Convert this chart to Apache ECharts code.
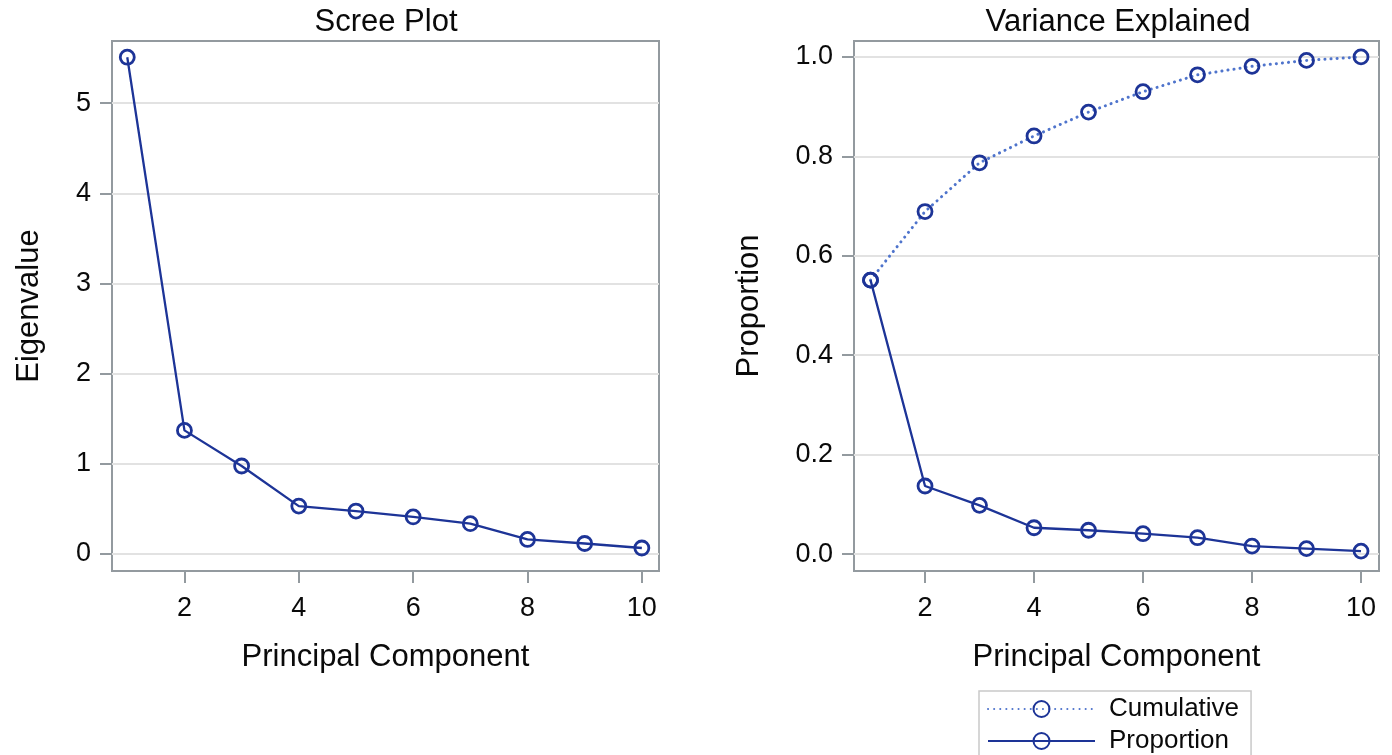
<!DOCTYPE html>
<html>
<head>
<meta charset="utf-8">
<script src="https://cdn.jsdelivr.net/npm/echarts@6/dist/echarts.min.js"></script>
<style>
  html, body { margin: 0; padding: 0; background: #fff; }
  #chart { width: 1392px; height: 755px; }
</style>
</head>
<body>
<div id="chart"></div>
<script>
// principal components 1..10
const components = [1, 2, 3, 4, 5, 6, 7, 8, 9, 10]
const eigenvalues = [5.51, 1.37, 0.975, 0.53, 0.475, 0.41, 0.335, 0.16, 0.115, 0.065]
const proportion = [0.551, 0.137, 0.098, 0.053, 0.048, 0.041, 0.033, 0.016, 0.011, 0.006]
const cumulative = [0.551, 0.689, 0.787, 0.841, 0.889, 0.930, 0.964, 0.981, 0.993, 1.0]

const xTicks = [2, 4, 6, 8, 10]
const eigenTicks = [0, 1, 2, 3, 4, 5]
const propTicks = [0, 0.2, 0.4, 0.6, 0.8, 1.0]

const font = "'Liberation Sans', Arial, sans-serif"
const textColor = '#0a0a0a'
const frameColor = '#939a9f'
const gridColor = '#e2e2e2'
const darkBlue = '#1d3497'
const lightBlue = '#4f74cc'

function pairs(xs, ys) {
  return xs.map((x, i) => [x, ys[i]])
}

function xAxisFor(gridIndex, min, max) {
  return {
    type: 'value',
    gridIndex: gridIndex,
    min: min,
    max: max,
    name: 'Principal Component',
    nameLocation: 'middle',
    nameGap: 71,
    nameTextStyle: { fontFamily: font, fontSize: 31, color: textColor },
    axisLine: { show: false, onZero: false },
    axisTick: { show: true, customValues: xTicks, length: 12, lineStyle: { color: frameColor, width: 2 } },
    axisLabel: {
      customValues: xTicks,
      margin: 24,
      fontFamily: font,
      fontSize: 27,
      color: textColor
    },
    splitLine: { show: false }
  }
}

function yAxisFor(gridIndex, min, max, ticks, name, gap, digits) {
  return {
    type: 'value',
    gridIndex: gridIndex,
    min: min,
    max: max,
    name: name,
    nameLocation: 'middle',
    nameGap: gap,
    nameTextStyle: { fontFamily: font, fontSize: 31, color: textColor },
    axisLine: { show: false, onZero: false },
    axisTick: { show: true, customValues: ticks, length: 12, lineStyle: { color: frameColor, width: 2 } },
    axisLabel: {
      customValues: ticks,
      margin: 21,
      fontFamily: font,
      fontSize: 27,
      color: textColor,
      formatter: v => v.toFixed(digits)
    },
    splitLine: { show: true, lineStyle: { color: gridColor, width: 2 } }
  }
}

const markerStyle = {
  color: 'rgba(255,255,255,0)',
  borderColor: darkBlue,
  borderWidth: 2.8
}

const chart = echarts.init(document.getElementById('chart'))

chart.setOption({
  animation: false,
  backgroundColor: '#fff',
  title: [
    {
      text: 'Scree Plot',
      left: 386,
      top: 7,
      textAlign: 'center',
      padding: 0,
      textStyle: { fontFamily: font, fontSize: 31, fontWeight: 'normal', color: textColor }
    },
    {
      text: 'Variance Explained',
      left: 1118,
      top: 7,
      textAlign: 'center',
      padding: 0,
      textStyle: { fontFamily: font, fontSize: 31, fontWeight: 'normal', color: textColor }
    }
  ],
  grid: [
    { left: 112, top: 41, width: 547, height: 530, show: true, borderColor: frameColor, borderWidth: 2 },
    { left: 854, top: 41, width: 525, height: 530, show: true, borderColor: frameColor, borderWidth: 2 }
  ],
  legend: {
    data: ['Cumulative', 'Proportion'],
    orient: 'vertical',
    left: 979,
    top: 691,
    height: 120,
    padding: [5, 12, 5, 8],
    itemGap: 6,
    itemWidth: 107,
    itemHeight: 20,
    borderColor: '#c9c9c9',
    borderWidth: 1.5,
    textStyle: { fontFamily: font, fontSize: 26, color: textColor, padding: [0, 0, 0, 9] }
  },
  xAxis: [
    xAxisFor(0, 0.733, 10.3),
    xAxisFor(1, 0.697, 10.33)
  ],
  yAxis: [
    yAxisFor(0, -0.19, 5.69, eigenTicks, 'Eigenvalue', 67, 0),
    yAxisFor(1, -0.034, 1.032, propTicks, 'Proportion', 89, 1)
  ],
  series: [
    {
      name: 'Eigenvalue',
      type: 'line',
      xAxisIndex: 0,
      yAxisIndex: 0,
      data: pairs(components, eigenvalues),
      symbol: 'circle',
      symbolSize: 14,
      itemStyle: markerStyle,
      lineStyle: { color: darkBlue, width: 2.3 }
    },
    {
      name: 'Cumulative',
      type: 'line',
      xAxisIndex: 1,
      yAxisIndex: 1,
      data: pairs(components, cumulative),
      symbol: 'circle',
      symbolSize: 14,
      itemStyle: markerStyle,
      lineStyle: { color: lightBlue, width: 3, type: [0.1, 6], cap: 'round' }
    },
    {
      name: 'Proportion',
      type: 'line',
      xAxisIndex: 1,
      yAxisIndex: 1,
      data: pairs(components, proportion),
      symbol: 'circle',
      symbolSize: 14,
      itemStyle: markerStyle,
      lineStyle: { color: darkBlue, width: 2.3 }
    }
  ]
})
</script>
</body>
</html>
